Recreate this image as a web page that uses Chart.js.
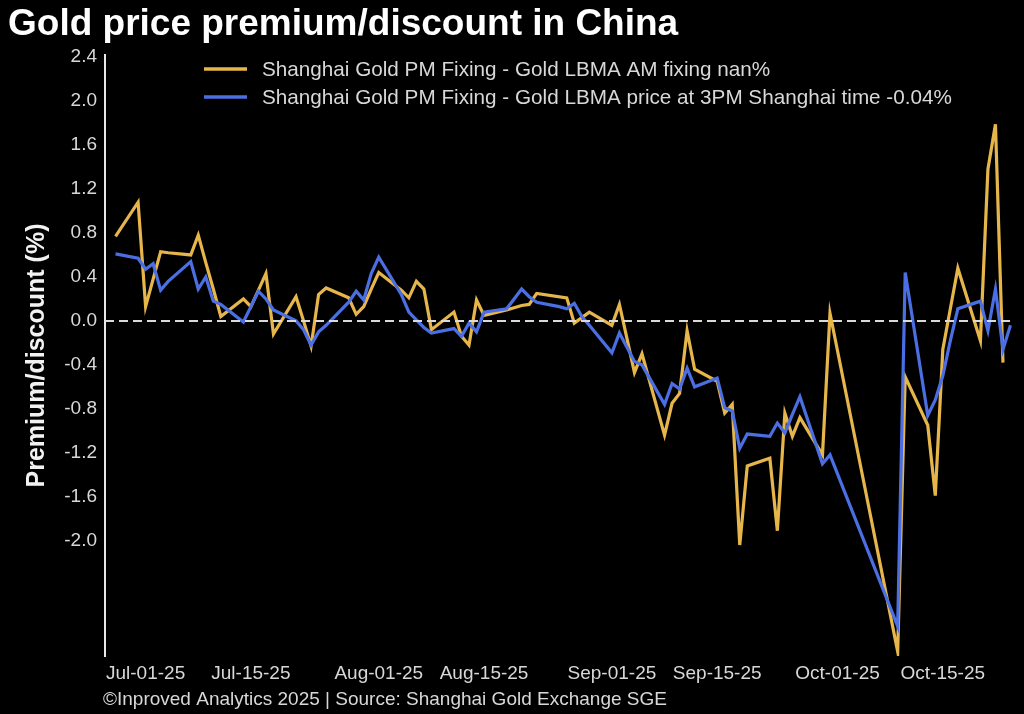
<!DOCTYPE html>
<html>
<head>
<meta charset="utf-8">
<title>Gold price premium/discount in China</title>
<script src="https://cdn.jsdelivr.net/npm/chart.js@4.4.1/dist/chart.umd.min.js"></script>
<style>
  html, body { margin: 0; padding: 0; background: #000; }
  #wrap { width: 1024px; height: 714px; position: relative; }
</style>
</head>
<body>
<div id="wrap"><canvas id="premiumChart"></canvas></div>
<script>
// chart texts
const chartTitle = 'Gold price premium/discount in China';
const footerText = '©Inproved Analytics 2025 | Source: Shanghai Gold Exchange SGE';
const yAxisTitle = 'Premium/discount (%)';
const seriesNames = [
    'Shanghai Gold PM Fixing - Gold LBMA AM fixing nan%',
    'Shanghai Gold PM Fixing - Gold LBMA price at 3PM Shanghai time -0.04%'
];

// trading days
const tradeDates = [
    '2025-06-27', '2025-06-30',
    '2025-07-01', '2025-07-02', '2025-07-03', '2025-07-04', '2025-07-07', '2025-07-08', '2025-07-09', '2025-07-10',
    '2025-07-11', '2025-07-14', '2025-07-15', '2025-07-16', '2025-07-17', '2025-07-18', '2025-07-21', '2025-07-22',
    '2025-07-23', '2025-07-24', '2025-07-25', '2025-07-28', '2025-07-29', '2025-07-30', '2025-07-31',
    '2025-08-01', '2025-08-04', '2025-08-05', '2025-08-06', '2025-08-07', '2025-08-08', '2025-08-11', '2025-08-12',
    '2025-08-13', '2025-08-14', '2025-08-15', '2025-08-18', '2025-08-19', '2025-08-20', '2025-08-21', '2025-08-22',
    '2025-08-25', '2025-08-26', '2025-08-27', '2025-08-28', '2025-08-29',
    '2025-09-01', '2025-09-02', '2025-09-03', '2025-09-04', '2025-09-05', '2025-09-08', '2025-09-09', '2025-09-10',
    '2025-09-11', '2025-09-12', '2025-09-15', '2025-09-16', '2025-09-17', '2025-09-18', '2025-09-19', '2025-09-22',
    '2025-09-23', '2025-09-24', '2025-09-25', '2025-09-26', '2025-09-29', '2025-09-30',
    '2025-10-09', '2025-10-10', '2025-10-13', '2025-10-14', '2025-10-15', '2025-10-16', '2025-10-17', '2025-10-20',
    '2025-10-21', '2025-10-22', '2025-10-23', '2025-10-24'
];

// premium vs LBMA AM fixing (%), null = no fixing that day
const amFixSpread = [
    0.77, 1.08,
    0.13, 0.38, 0.63, 0.62, 0.60, 0.78, 0.53, 0.29,
    0.04, 0.20, 0.13, 0.28, 0.43, -0.12, 0.22, 0.00,
    -0.23, 0.24, 0.30, 0.21, 0.06, 0.13, 0.29,
    0.44, 0.28, 0.21, 0.36, 0.29, -0.08, 0.08, -0.14,
    -0.22, 0.19, 0.05, 0.10, 0.12, 0.14, 0.15, 0.25,
    null, 0.21, -0.02, 0.03, 0.08,
    -0.04, 0.15, -0.16, -0.47, -0.30, -1.04, -0.75, -0.66,
    -0.09, -0.44, -0.55, -0.84, -0.76, -2.04, -1.32, -1.25,
    -1.91, -0.84, -1.05, -0.88, -1.22, 0.07,
    -3.01, -0.51, -0.95, -1.59, -0.26, 0.11, 0.48, -0.18,
    1.38, 1.79, -0.38, null
];

// premium vs LBMA price at 3PM Shanghai time (%)
const pm3Spread = [
    0.61, 0.57,
    0.47, 0.52, 0.28, 0.36, 0.54, 0.29, 0.40, 0.18,
    0.15, -0.01, 0.13, 0.27, 0.20, 0.10, 0.00, -0.08,
    -0.22, -0.10, -0.04, 0.17, 0.27, 0.19, 0.43,
    0.58, 0.24, 0.08, 0.01, -0.06, -0.11, -0.07, -0.14,
    -0.02, -0.10, 0.08, 0.11, 0.20, 0.29, 0.22, 0.17,
    0.13, 0.11, 0.16, 0.04, -0.04,
    -0.29, -0.11, -0.24, -0.37, -0.40, -0.76, -0.57, -0.62,
    -0.43, -0.60, -0.52, -0.79, -0.82, -1.16, -1.03, -1.05,
    -0.93, -1.02, -0.85, -0.69, -1.30, -1.22,
    -2.78, 0.44, -0.86, -0.72, -0.50, -0.18, 0.11, 0.18,
    -0.09, 0.29, -0.26, -0.04
];

const xTickDates = ['2025-07-01', '2025-07-15', '2025-08-01', '2025-08-15', '2025-09-01', '2025-09-15', '2025-10-01', '2025-10-15'];
const xTickLabels = ['Jul-01-25', 'Jul-15-25', 'Aug-01-25', 'Aug-15-25', 'Sep-01-25', 'Sep-15-25', 'Oct-01-25', 'Oct-15-25'];
const yTickValues = [-2.0, -1.6, -1.2, -0.8, -0.4, 0.0, 0.4, 0.8, 1.2, 1.6, 2.0, 2.4];

const goldColor = '#e6b64b';
const blueColor = '#4b6fe3';
const textColor = '#d8d8d8';
const fontFamily = "'Liberation Sans', Arial, Helvetica, sans-serif";

// days since Jul 1 2025, used as x value
const baseDay = Date.UTC(2025, 6, 1);
function dayNum(iso) {
    const p = iso.split('-');
    return (Date.UTC(+p[0], +p[1] - 1, +p[2]) - baseDay) / 86400000;
}

function toPoints(values) {
    return tradeDates.map((d, i) => ({ x: dayNum(d), y: values[i] }));
}

// title, legend, footer and the dashed zero line
const decorPlugin = {
    id: 'decor',
    afterDatasetsDraw(chart) {
        const { ctx, chartArea, scales } = chart;
        const y0 = scales.y.getPixelForValue(0);
        ctx.save();
        ctx.setLineDash([9, 5]);
        ctx.strokeStyle = '#dadada';
        ctx.lineWidth = 2;
        ctx.beginPath();
        ctx.moveTo(chartArea.left, y0);
        ctx.lineTo(chartArea.right, y0);
        ctx.stroke();
        ctx.restore();
    },
    afterDraw(chart) {
        const { ctx, chartArea } = chart;
        ctx.save();
        ctx.fillStyle = '#ffffff';
        ctx.font = 'bold 37px ' + fontFamily;
        ctx.textBaseline = 'alphabetic';
        ctx.fillText(chartTitle, 8, 35);

        const colors = [goldColor, blueColor];
        ctx.font = '20.7px ' + fontFamily;
        ctx.textBaseline = 'middle';
        seriesNames.forEach((name, i) => {
            const y = 69 + i * 28;
            ctx.strokeStyle = colors[i];
            ctx.lineWidth = 3.5;
            ctx.beginPath();
            ctx.moveTo(204, y);
            ctx.lineTo(247, y);
            ctx.stroke();
            ctx.fillStyle = textColor;
            ctx.fillText(name, 262, y + 1);
        });

        ctx.font = '19px ' + fontFamily;
        ctx.textBaseline = 'alphabetic';
        ctx.fillStyle = textColor;
        ctx.fillText(footerText, chartArea.left - 2, 705);
        ctx.restore();
    }
};

Chart.defaults.font.family = fontFamily;

new Chart(document.getElementById('premiumChart'), {
    type: 'line',
    data: {
        datasets: [{
            label: seriesNames[0],
            data: toPoints(amFixSpread),
            borderColor: goldColor,
            borderWidth: 3.2,
            pointRadius: 0,
            spanGaps: true,
            order: 1
        }, {
            label: seriesNames[1],
            data: toPoints(pm3Spread),
            borderColor: blueColor,
            borderWidth: 3.2,
            pointRadius: 0,
            spanGaps: true,
            order: 0
        }]
    },
    options: {
        responsive: true,
        maintainAspectRatio: false,
        animation: false,
        events: [],
        layout: { padding: { top: 55, left: 8, right: 12, bottom: 28 } },
        plugins: {
            legend: { display: false },
            tooltip: { enabled: false }
        },
        scales: {
            x: {
                type: 'linear',
                min: -5.4,
                max: 115.2,
                grid: { display: false, drawTicks: false },
                border: { display: false },
                afterBuildTicks: (scale) => {
                    scale.ticks = xTickDates.map(d => ({ value: dayNum(d) }));
                },
                afterFit: (scale) => { scale.height = 30; },
                ticks: {
                    autoSkip: false,
                    maxRotation: 0,
                    minRotation: 0,
                    padding: 6,
                    color: textColor,
                    font: { size: 19 },
                    callback: (value) => xTickLabels[xTickDates.findIndex(d => dayNum(d) === value)]
                }
            },
            y: {
                min: -3.05,
                max: 2.42,
                grid: { display: false, drawTicks: false },
                border: { display: true, color: '#e8e8e8', width: 2 },
                afterBuildTicks: (scale) => {
                    scale.ticks = yTickValues.map(v => ({ value: v }));
                },
                afterFit: (scale) => { scale.width = 97; },
                ticks: {
                    padding: 8,
                    color: textColor,
                    font: { size: 19 },
                    callback: (value) => value.toFixed(1)
                },
                title: {
                    display: true,
                    text: yAxisTitle,
                    color: '#f2f2f2',
                    font: { size: 25, weight: 'bold' },
                    padding: { top: 14, bottom: 0 }
                }
            }
        }
    },
    plugins: [decorPlugin]
});
</script>
</body>
</html>
